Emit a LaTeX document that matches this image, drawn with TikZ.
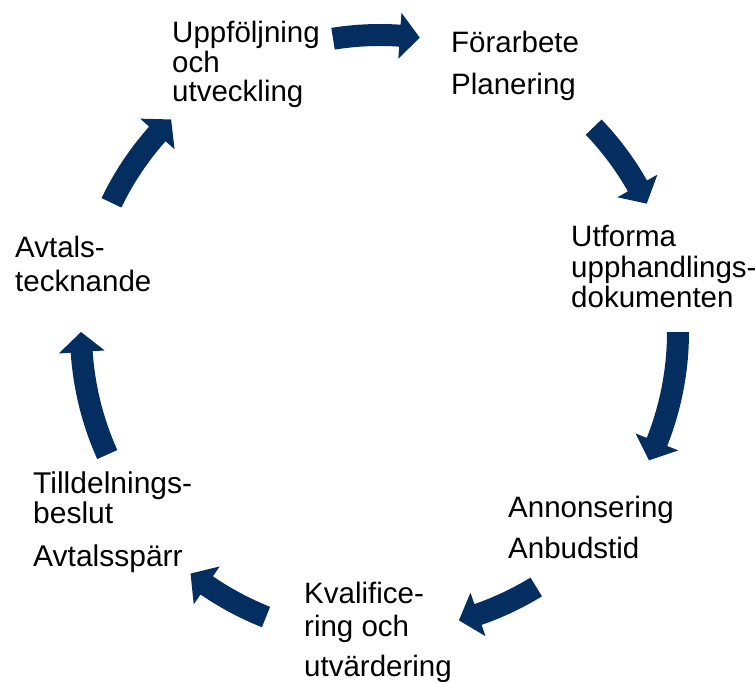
\documentclass[tikz,border=0pt]{standalone}
\usepackage{fontspec}
\setmainfont{Liberation Sans}
\definecolor{navy}{RGB}{4,46,96}
\tikzset{
  lbl/.style={anchor=base west, inner sep=0pt, font=\fontsize{29.5}{31}\selectfont, text=black},
  lblb/.style={lbl, font=\fontsize{30}{31}\selectfont},
  arrowfill/.style={fill=navy}
}
\newcommand\cycarrow[3]{%
 \pgfmathsetmacro\cyA{#1}\pgfmathsetmacro\cyB{#2}\pgfmathsetmacro\cyR{#3}%
 \pgfmathsetmacro\cyH{\cyB+20/\cyR*180/pi}%
 \pgfmathsetmacro\cyRo{\cyR+11}\pgfmathsetmacro\cyRi{\cyR-11}%
 \pgfmathsetmacro\cyHo{\cyR+23}\pgfmathsetmacro\cyHi{\cyR-23}%
 \fill[arrowfill] plot[domain=\cyA:\cyH,samples=30] ({380+\cyRo*cos(\x)},{332-\cyRo*sin(\x)})
   -- ({380+\cyHo*cos(\cyH)},{332-\cyHo*sin(\cyH)})
   -- ({380+\cyR*cos(\cyB)},{332-\cyR*sin(\cyB)})
   -- ({380+\cyHi*cos(\cyH)},{332-\cyHi*sin(\cyH)})
   -- plot[domain=\cyH:\cyA,samples=30] ({380+\cyRi*cos(\x)},{332-\cyRi*sin(\x)}) -- cycle;}
\begin{document}
\begin{tikzpicture}[x=1pt,y=-1pt]
\useasboundingbox (0,0) rectangle (756,682);
% arrows
\cycarrow{99.1}{82.3}{297}
\cycarrow{43.8}{25.7}{296}
\cycarrow{0}{-25.5}{298}
\cycarrow{-58.5}{-74.7}{299}
\cycarrow{-111.8}{-128.1}{307}
\cycarrow{-155.8}{-180}{299}
\cycarrow{154.3}{134.5}{298}
% labels
\node[lbl] (u1) at (172,43) {Uppföljning};
\node[lbl] (u2) at (172,73) {och};
\node[lbl] (u3) at (172,102) {utveckling};
\node[lbl] (f1) at (451,53) {Förarbete};
\node[lbl] (f2) at (451,95) {Planering};
\node[lbl] (d1) at (571,247) {Utforma};
\node[lbl] (d2) at (571,277) {upphandlings-};
\node[lbl] (d3) at (571,307) {dokumenten};
\node[lbl] (a1) at (508,517) {Annonsering};
\node[lbl] (a2) at (508,558) {Anbudstid};
\node[lbl] (k1) at (304,603) {Kvalifice-};
\node[lbl] (k2) at (304,636) {ring och};
\node[lbl] (k3) at (304,676) {utvärdering};
\node[lblb] (t1) at (33,493) {Tilldelnings-};
\node[lblb] (t2) at (33,523) {beslut};
\node[lblb] (t3) at (33,566) {Avtalsspärr};
\node[lbl] (v1) at (15,258) {Avtals-};
\node[lbl] (v2) at (15,291) {tecknande};
\end{tikzpicture}
\end{document}
